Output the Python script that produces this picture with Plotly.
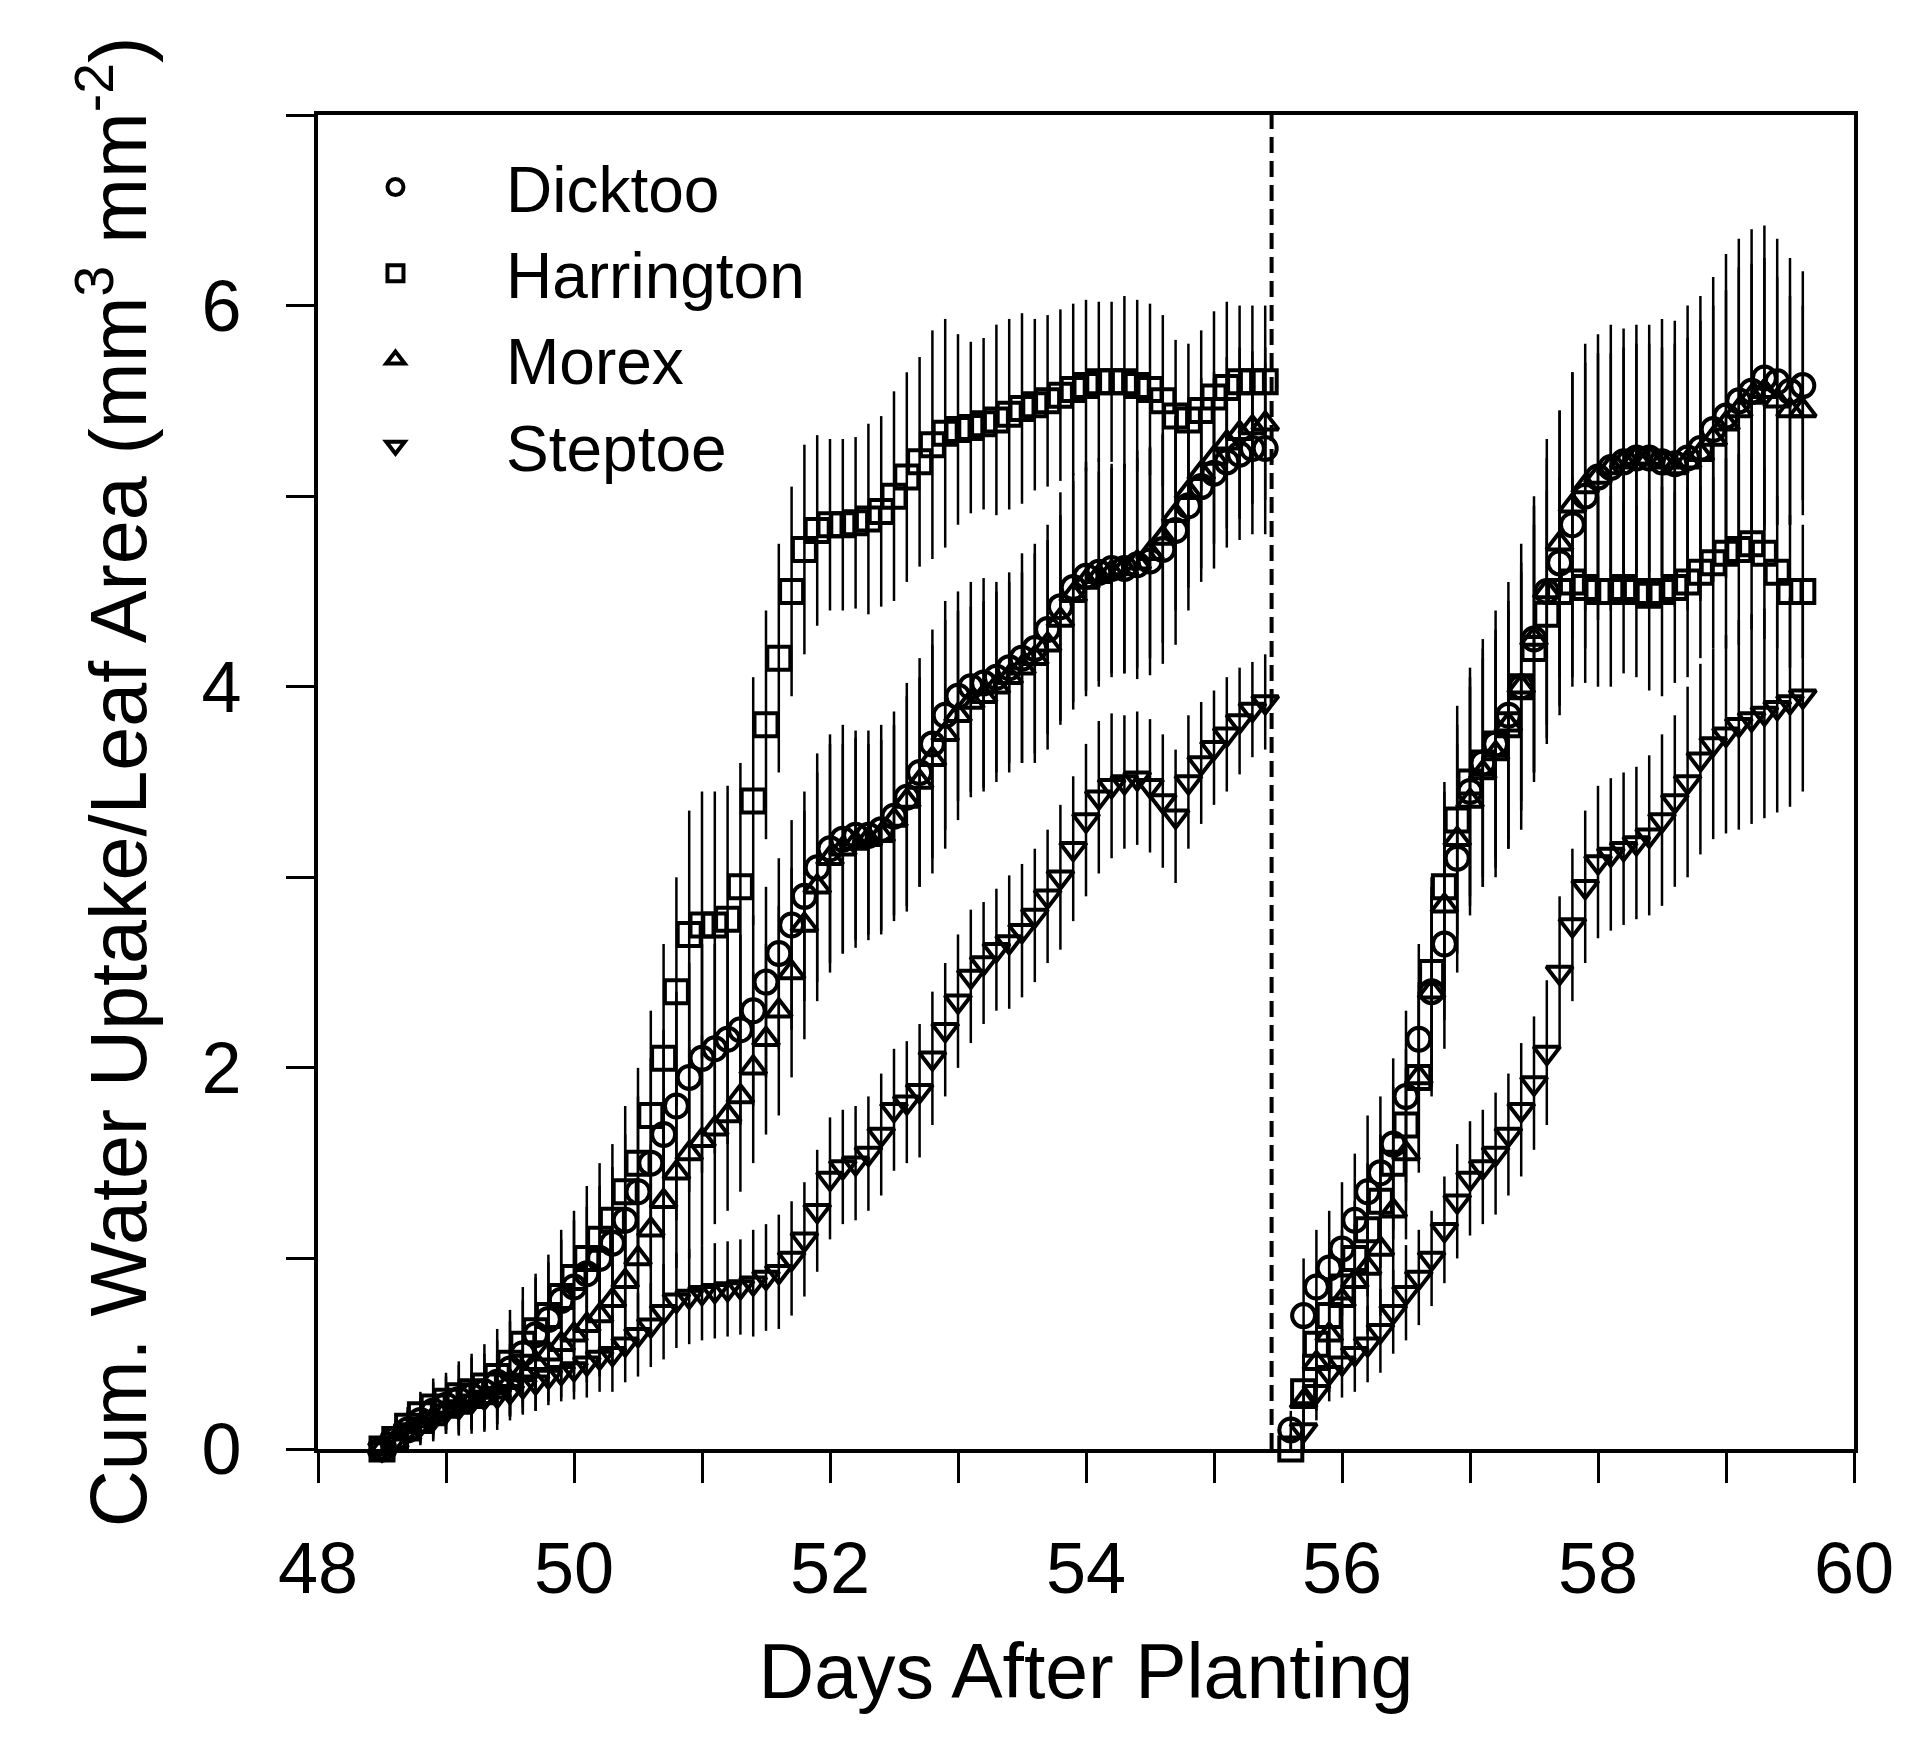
import plotly.graph_objects as go

# Days after planting (two measurement periods separated by the dashed line)
days = [48.5, 48.6, 48.7, 48.8, 48.9, 49.0, 49.1, 49.2, 49.3, 49.4,
        49.5, 49.6, 49.7, 49.8, 49.9, 50.0, 50.1, 50.2, 50.3, 50.4,
        50.5, 50.6, 50.7, 50.8, 50.9, 51.0, 51.1, 51.2, 51.3, 51.4,
        51.5, 51.6, 51.7, 51.8, 51.9, 52.0, 52.1, 52.2, 52.3, 52.4,
        52.5, 52.6, 52.7, 52.8, 52.9, 53.0, 53.1, 53.2, 53.3, 53.4,
        53.5, 53.6, 53.7, 53.8, 53.9, 54.0, 54.1, 54.2, 54.3, 54.4,
        54.5, 54.6, 54.7, 54.8, 54.9, 55.0, 55.1, 55.2, 55.3, 55.4,
        55.5, 55.6, 55.7, 55.8, 55.9, 56.0, 56.1, 56.2, 56.3, 56.4,
        56.5, 56.6, 56.7, 56.8, 56.9, 57.0, 57.1, 57.2, 57.3, 57.4,
        57.5, 57.6, 57.7, 57.8, 57.9, 58.0, 58.1, 58.2, 58.3, 58.4,
        58.5, 58.6, 58.7, 58.8, 58.9, 59.0, 59.1, 59.2, 59.3, 59.4,
        59.5, 59.6]

dicktoo = [0.0, 0.05, 0.1, 0.15, 0.2, 0.23, 0.26, 0.28, 0.3, 0.35,
           0.42, 0.5, 0.6, 0.68, 0.78, 0.85, 0.92, 1.0, 1.08, 1.2,
           1.35, 1.5, 1.65, 1.8, 1.95, 2.05, 2.1, 2.15, 2.2, 2.3,
           2.45, 2.6, 2.75, 2.9, 3.05, 3.15, 3.2, 3.22, 3.22, 3.25,
           3.32, 3.42, 3.55, 3.7, 3.85, 3.95, 4.0, 4.02, 4.05, 4.1,
           4.15, 4.2, 4.3, 4.42, 4.52, 4.58, 4.6, 4.62, 4.62, 4.64,
           4.66, 4.72, 4.82, 4.95, 5.05, 5.12, 5.18, 5.22, 5.25, 5.25,
           -0.1, 0.1, 0.7, 0.85, 0.95, 1.05, 1.2, 1.35, 1.45, 1.6,
           1.85, 2.15, 2.4, 2.65, 3.1, 3.45, 3.6, 3.7, 3.85, 4.0,
           4.25, 4.5, 4.65, 4.85, 5.0, 5.1, 5.15, 5.18, 5.2, 5.2,
           5.18, 5.17, 5.2, 5.25, 5.35, 5.42, 5.5, 5.55, 5.62, 5.6,
           5.55, 5.58]
dicktoo_err = [0.05, 0.08, 0.1, 0.12, 0.15, 0.15, 0.18, 0.2, 0.2, 0.22,
               0.25, 0.28, 0.3, 0.3, 0.32, 0.35, 0.35, 0.38, 0.4, 0.45,
               0.5, 0.55, 0.55, 0.6, 0.6, 0.6, 0.55, 0.55, 0.5, 0.5,
               0.5, 0.5, 0.55, 0.55, 0.6, 0.6, 0.6, 0.55, 0.55, 0.55,
               0.55, 0.6, 0.6, 0.6, 0.6, 0.55, 0.55, 0.55, 0.5, 0.5,
               0.55, 0.55, 0.55, 0.6, 0.6, 0.6, 0.6, 0.55, 0.55, 0.6,
               0.6, 0.6, 0.6, 0.55, 0.5, 0.5, 0.45, 0.45, 0.45, 0.45,
               0.05, 0.1, 0.3, 0.3, 0.3, 0.35, 0.35, 0.4, 0.4, 0.45,
               0.45, 0.5, 0.5, 0.55, 0.6, 0.6, 0.65, 0.7, 0.7, 0.75,
               0.75, 0.8, 0.8, 0.8, 0.8, 0.75, 0.75, 0.7, 0.7, 0.7,
               0.75, 0.75, 0.8, 0.8, 0.8, 0.85, 0.85, 0.85, 0.8, 0.75,
               0.7, 0.6]

harrington = [0.0, 0.05, 0.12, 0.18, 0.22, 0.25, 0.28, 0.3, 0.33, 0.38,
              0.45, 0.55, 0.62, 0.7, 0.8, 0.9, 1.0, 1.1, 1.2, 1.35,
              1.5, 1.75, 2.05, 2.4, 2.7, 2.75, 2.75, 2.78, 2.95, 3.4,
              3.8, 4.15, 4.5, 4.72, 4.82, 4.85, 4.85, 4.86, 4.88, 4.92,
              5.0, 5.1, 5.18, 5.27, 5.33, 5.35, 5.36, 5.38, 5.4, 5.43,
              5.46, 5.48, 5.5, 5.53, 5.56, 5.58, 5.6, 5.6, 5.6, 5.58,
              5.56, 5.5, 5.42, 5.4, 5.45, 5.52, 5.57, 5.6, 5.6, 5.6,
              -0.1, 0.0, 0.3, 0.55, 0.7, 0.85, 1.0, 1.15, 1.3, 1.5,
              1.7, 1.95, 2.5, 2.95, 3.3, 3.5, 3.6, 3.7, 3.8, 4.0,
              4.2, 4.38, 4.5, 4.55, 4.52, 4.5, 4.5, 4.52, 4.5, 4.48,
              4.5, 4.52, 4.55, 4.6, 4.65, 4.7, 4.72, 4.75, 4.7, 4.6,
              4.5, 4.5]
harrington_err = [0.05, 0.08, 0.1, 0.12, 0.15, 0.15, 0.18, 0.2, 0.22, 0.25,
                  0.28, 0.3, 0.3, 0.32, 0.35, 0.35, 0.38, 0.4, 0.4, 0.45,
                  0.5, 0.55, 0.6, 0.6, 0.65, 0.7, 0.7, 0.7, 0.65, 0.65,
                  0.6, 0.6, 0.55, 0.55, 0.5, 0.45, 0.45, 0.45, 0.5, 0.5,
                  0.55, 0.55, 0.55, 0.6, 0.6, 0.5, 0.45, 0.45, 0.5, 0.5,
                  0.5, 0.45, 0.45, 0.45, 0.45, 0.45, 0.42, 0.42, 0.45, 0.45,
                  0.45, 0.45, 0.4, 0.4, 0.42, 0.45, 0.45, 0.4, 0.4, 0.4,
                  0.05, 0.08, 0.2, 0.25, 0.3, 0.3, 0.3, 0.35, 0.35, 0.4,
                  0.4, 0.45, 0.5, 0.55, 0.6, 0.6, 0.6, 0.6, 0.6, 0.6,
                  0.65, 0.65, 0.6, 0.55, 0.5, 0.5, 0.5, 0.45, 0.45, 0.5,
                  0.55, 0.5, 0.5, 0.45, 0.45, 0.5, 0.5, 0.45, 0.45, 0.4,
                  0.4, 0.35]

morex = [0.0, 0.04, 0.08, 0.12, 0.16, 0.2, 0.22, 0.25, 0.27, 0.3,
         0.35, 0.4, 0.45, 0.5, 0.55, 0.6, 0.65, 0.7, 0.78, 0.88,
         1.0, 1.15, 1.3, 1.45, 1.55, 1.62, 1.68, 1.75, 1.85, 2.0,
         2.15, 2.3, 2.5, 2.75, 2.95, 3.1, 3.15, 3.18, 3.2, 3.22,
         3.3, 3.4, 3.5, 3.62, 3.75, 3.85, 3.92, 3.95, 4.0, 4.05,
         4.1, 4.15, 4.22, 4.35, 4.48, 4.55, 4.58, 4.6, 4.62, 4.65,
         4.7, 4.78, 4.9, 5.02, 5.12, 5.2, 5.28, 5.33, 5.36, 5.38,
         -0.1, -0.05, 0.25, 0.45, 0.6, 0.78, 0.88, 0.95, 1.05, 1.25,
         1.55, 1.95, 2.4, 2.85, 3.2, 3.4, 3.55, 3.65, 3.8, 4.0,
         4.25, 4.5, 4.75, 4.95, 5.05, 5.1, 5.15, 5.18, 5.2, 5.2,
         5.18, 5.15, 5.18, 5.22, 5.3, 5.38, 5.45, 5.52, 5.55, 5.5,
         5.45, 5.45]
morex_err = [0.05, 0.06, 0.08, 0.1, 0.12, 0.12, 0.15, 0.15, 0.18, 0.2,
             0.2, 0.22, 0.25, 0.25, 0.28, 0.3, 0.3, 0.32, 0.35, 0.4,
             0.42, 0.45, 0.5, 0.5, 0.55, 0.55, 0.5, 0.5, 0.5, 0.5,
             0.5, 0.55, 0.55, 0.6, 0.6, 0.6, 0.55, 0.55, 0.5, 0.5,
             0.5, 0.55, 0.55, 0.6, 0.6, 0.55, 0.5, 0.5, 0.5, 0.5,
             0.5, 0.55, 0.55, 0.55, 0.6, 0.6, 0.55, 0.55, 0.55, 0.55,
             0.55, 0.55, 0.5, 0.5, 0.5, 0.45, 0.45, 0.45, 0.4, 0.4,
             0.05, 0.08, 0.25, 0.25, 0.3, 0.3, 0.3, 0.35, 0.35, 0.4,
             0.45, 0.5, 0.55, 0.6, 0.6, 0.6, 0.6, 0.6, 0.65, 0.65,
             0.7, 0.7, 0.7, 0.7, 0.65, 0.65, 0.6, 0.6, 0.6, 0.6,
             0.6, 0.65, 0.65, 0.7, 0.7, 0.7, 0.75, 0.7, 0.7, 0.65,
             0.6, 0.55]

steptoe = [0.0, 0.05, 0.1, 0.13, 0.16, 0.2, 0.22, 0.25, 0.27, 0.28,
           0.3, 0.33, 0.35, 0.38, 0.4, 0.42, 0.45, 0.48, 0.5, 0.55,
           0.6, 0.65, 0.72, 0.78, 0.8, 0.82, 0.83, 0.84, 0.85, 0.87,
           0.9, 0.93, 1.0, 1.1, 1.25, 1.42, 1.48, 1.5, 1.55, 1.65,
           1.78, 1.82, 1.88, 2.05, 2.2, 2.35, 2.48, 2.55, 2.62, 2.66,
           2.72, 2.8, 2.9, 3.0, 3.15, 3.3, 3.42, 3.48, 3.5, 3.52,
           3.48, 3.4, 3.32, 3.5, 3.6, 3.68, 3.75, 3.82, 3.88, 3.92,
           -0.05, -0.05, 0.1, 0.3, 0.4, 0.45, 0.5, 0.55, 0.62, 0.72,
           0.82, 0.9, 1.0, 1.15, 1.3, 1.42, 1.48, 1.55, 1.65, 1.78,
           1.92, 2.08, 2.5, 2.75, 2.95, 3.08, 3.12, 3.15, 3.18, 3.22,
           3.3, 3.4, 3.5, 3.62, 3.7, 3.75, 3.8, 3.83, 3.86, 3.89,
           3.92, 3.95]
steptoe_err = [0.04, 0.05, 0.06, 0.08, 0.08, 0.1, 0.1, 0.1, 0.12, 0.12,
               0.12, 0.14, 0.15, 0.15, 0.15, 0.16, 0.18, 0.18, 0.2, 0.2,
               0.22, 0.22, 0.25, 0.25, 0.25, 0.25, 0.25, 0.25, 0.25, 0.28,
               0.28, 0.3, 0.3, 0.3, 0.32, 0.32, 0.3, 0.3, 0.3, 0.32,
               0.32, 0.32, 0.35, 0.35, 0.35, 0.35, 0.35, 0.32, 0.32, 0.35,
               0.35, 0.35, 0.35, 0.38, 0.38, 0.4, 0.4, 0.38, 0.35, 0.35,
               0.35, 0.35, 0.35, 0.35, 0.32, 0.3, 0.3, 0.28, 0.25, 0.25,
               0.04, 0.05, 0.1, 0.15, 0.15, 0.18, 0.2, 0.2, 0.22, 0.22,
               0.25, 0.25, 0.25, 0.28, 0.3, 0.3, 0.3, 0.32, 0.32, 0.35,
               0.35, 0.38, 0.4, 0.4, 0.4, 0.4, 0.4, 0.4, 0.4, 0.42,
               0.45, 0.45, 0.5, 0.5, 0.5, 0.52, 0.55, 0.55, 0.55, 0.55,
               0.55, 0.5]

series_names = ["Dicktoo", "Harrington", "Morex", "Steptoe"]
series_values = [dicktoo, harrington, morex, steptoe]
series_errors = [dicktoo_err, harrington_err, morex_err, steptoe_err]
series_symbols = ["circle-open", "square-open", "triangle-up-open", "triangle-down-open"]

rewatering_day = 55.45
x_ticks = [48, 50, 52, 54, 56, 58, 60]
y_ticks = [0, 2, 4, 6]

FONT = "Liberation Sans, Arial, Helvetica, sans-serif"

fig = go.Figure()
for name, vals, errs, sym in zip(series_names, series_values, series_errors, series_symbols):
    fig.add_trace(go.Scatter(
        x=days, y=vals, name=name, mode="markers",
        marker=dict(symbol=sym, size=23, color="black", line=dict(width=4, color="black")),
        error_y=dict(type="data", array=errs, visible=True, thickness=2.5, width=0, color="black"),
        cliponaxis=False,
    ))

fig.add_shape(type="line", xref="x", yref="y", x0=rewatering_day, x1=rewatering_day,
              y0=0, y1=7, line=dict(color="black", width=4, dash="16px,8px"))

fig.update_layout(
    width=1906, height=1747,
    margin=dict(l=318, r=46, t=115, b=298),
    paper_bgcolor="white", plot_bgcolor="white",
    font=dict(family=FONT, color="black", size=72),
    showlegend=True,
    legend=dict(x=-0.0215, y=0.982, xanchor="left", yanchor="top",
                bgcolor="rgba(0,0,0,0)", font=dict(size=64, family=FONT, color="black"),
                itemwidth=211, tracegroupgap=0),
    xaxis=dict(range=[48, 60], tickvals=x_ticks, ticktext=[str(v) for v in x_ticks],
               showgrid=False, zeroline=False, showline=True, mirror=True,
               linecolor="black", linewidth=4, ticks="outside", ticklen=30, tickwidth=3,
               tickcolor="black", ticklabelstandoff=24,
               minor=dict(dtick=1, tick0=48, ticks="outside", ticklen=30, tickwidth=3, tickcolor="black"),
               tickfont=dict(size=72, family=FONT),
               title=dict(text="Days After Planting", font=dict(size=77, family=FONT), standoff=38)),
    yaxis=dict(range=[0, 7], tickvals=y_ticks, ticktext=[str(v) for v in y_ticks],
               showgrid=False, zeroline=False, showline=True, mirror=True,
               linecolor="black", linewidth=4, ticks="outside", ticklen=28, tickwidth=3,
               tickcolor="black", ticklabelstandoff=30,
               minor=dict(dtick=1, tick0=0, ticks="outside", ticklen=28, tickwidth=3, tickcolor="black"),
               tickfont=dict(size=72, family=FONT),
               title=dict(text="Cum. Water Uptake/Leaf Area (mm<sup>3</sup> mm<sup>-2</sup>)",
                          font=dict(size=79, family=FONT), standoff=30)),
)

fig.write_html("out.html")
